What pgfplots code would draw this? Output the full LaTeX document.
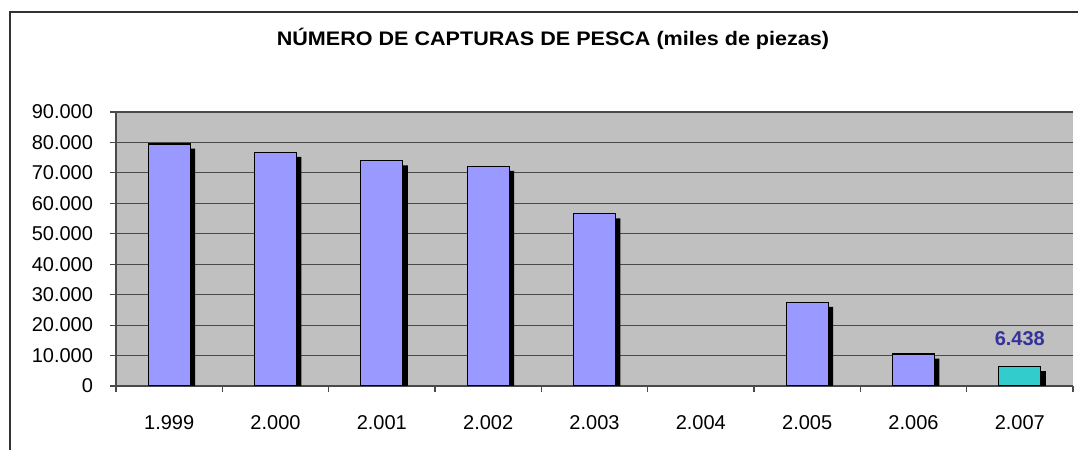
\documentclass[border=0pt]{standalone}
\usepackage{pgfplots}
\usepackage{pgfplotstable}
\pgfplotsset{compat=1.18}
\usepackage{fontspec}
\setmainfont{Liberation Sans}
\definecolor{barblue}{HTML}{9999FF}
\definecolor{barteal}{HTML}{33CCCC}
\definecolor{plotbg}{HTML}{C0C0C0}
\definecolor{lblblue}{HTML}{333399}
\definecolor{gridc}{HTML}{4A4A4A}

% 2.004 has no catch recorded (0): no bar is drawn for it
\pgfplotstableread{
x v
0 79500
1 76800
2 74000
3 72200
4 56600
6 27500
7 10500
}\mainbars
\pgfplotstableread{
x v
8 6438
}\lastbar

\begin{document}
\begin{tikzpicture}
\begin{axis}[
  at={(58pt,32pt)}, anchor=south west,
  scale only axis, width=478.5pt, height=137pt,
  xmin=-0.5, xmax=8.5, ymin=0, ymax=90000,
  axis background/.style={fill=plotbg},
  axis x line*=bottom, axis y line*=left,
  axis line style={draw=gridc, line width=0.6pt},
  ytick={0,10000,20000,30000,40000,50000,60000,70000,80000,90000},
  yticklabels={0,10.000,20.000,30.000,40.000,50.000,60.000,70.000,80.000,90.000},
  scaled y ticks=false,
  ymajorgrids, major grid style={draw=gridc, line width=0.6pt},
  xtick={0,1,2,3,4,5,6,7,8},
  xticklabels={1.999,2.000,2.001,2.002,2.003,2.004,2.005,2.006,2.007},
  minor xtick={-0.5,0.5,1.5,2.5,3.5,4.5,5.5,6.5,7.5,8.5},
  major x tick style={draw=none},
  tick style={draw=gridc, line width=0.6pt},
  tick align=outside,
  major tick length=3pt, minor tick length=3pt,
  ticklabel style={font=\fontsize{10}{12}\selectfont, text=black},
  yticklabel style={anchor=east, inner sep=0pt, xshift=-8.3pt},
  xticklabel style={anchor=north, inner sep=0pt, yshift=-11.6pt},
  ybar, bar width=0.395, bar shift=0pt,
]
\addplot[fill=black, draw=none, xshift=2.5pt, yshift=-2.3pt] table[x=x,y=v]{\mainbars};
\addplot[fill=black, draw=none, xshift=2.5pt, yshift=-2.3pt] table[x=x,y=v]{\lastbar};
\addplot[fill=barblue, draw=black, line width=0.65pt] table[x=x,y=v]{\mainbars};
\addplot[fill=barteal, draw=black, line width=0.65pt,
  nodes near coords, point meta=explicit symbolic,
  nodes near coords style={anchor=south, inner sep=0pt, yshift=10pt,
    font=\bfseries\fontsize{10}{12}\selectfont, text=lblblue}]
  coordinates {(8,6438) [6.438]};
\end{axis}
\node[anchor=base, inner sep=0pt, font=\bfseries\fontsize{9.8}{12}\selectfont] at (276.5pt,202pt)
  {\scalebox{1.1}[1]{NÚMERO DE CAPTURAS DE PESCA (miles de piezas)}};
\draw[line width=0.65pt, draw=black!80] (5pt,0pt) -- (5pt,219pt) -- (539pt,219pt);
\pgfresetboundingbox
\useasboundingbox (0pt,0pt) rectangle (539pt,225pt);
\end{tikzpicture}
\end{document}
